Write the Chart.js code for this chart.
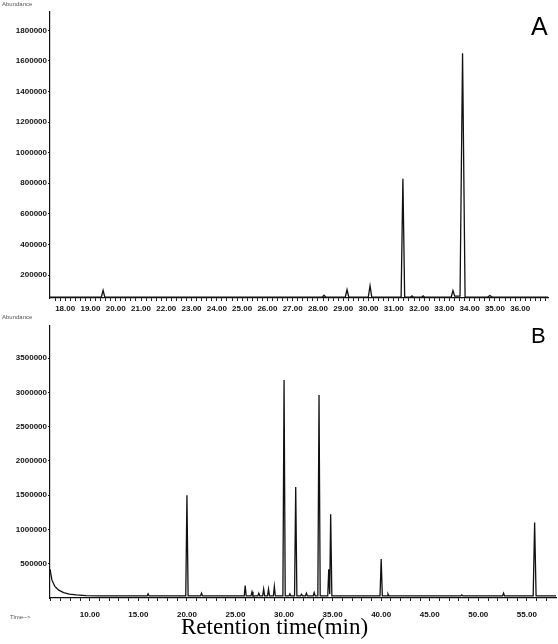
<!DOCTYPE html>
<html>
<head>
<meta charset="utf-8">
<script src="https://cdn.jsdelivr.net/npm/chart.js@4.4.1/dist/chart.umd.min.js"></script>
<style>
  body { margin: 0; background: #fff; width: 558px; height: 644px; position: relative; overflow: hidden; }
  .wrap { position: absolute; left: 0; width: 558px; }
  .tag { position: absolute; font-family: Arial, "Liberation Sans", sans-serif; color: #000; }
  .tiny { position: absolute; font-family: Arial, "Liberation Sans", sans-serif; font-size: 6px; color: #555; }
</style>
</head>
<body>
<div class="wrap" style="top:0;height:320px"><canvas id="chartA"></canvas></div>
<div class="wrap" style="top:320px;height:324px"><canvas id="chartB"></canvas></div>
<div class="tiny" style="left:2px;top:1px">Abundance</div>
<div class="tiny" style="left:2px;top:314px">Abundance</div>
<div class="tiny" style="left:10px;top:614px">Time--&gt;</div>
<div class="tag" style="left:531px;top:12px;font-size:25px">A</div>
<div class="tag" style="left:531px;top:323px;font-size:22px">B</div>
<div class="tag" style="left:181px;top:614px;font-size:23px;font-family:'Liberation Serif','DejaVu Serif',serif">Retention time(min)</div>
<script>
/* cromatograma A */
const tempoA = [17.4, 19.43, 19.5, 19.57, 28.17, 28.24, 28.31, 29.08, 29.15, 29.22, 29.99, 30.06, 30.13,
  31.29, 31.36, 31.43, 31.66, 31.72, 31.78, 32.1, 32.16, 32.22, 33.27, 33.34, 33.41, 33.62, 33.72, 33.82,
  34.7, 34.8, 34.9, 37.1];
const abundA = [55000, 55000, 100000, 55000, 55000, 68000, 55000, 55000, 105000, 55000, 55000, 130000, 55000,
  55000, 830000, 55000, 55000, 64000, 55000, 55000, 64000, 55000, 55000, 98000, 62000, 62000, 1650000, 55000,
  55000, 66000, 55000, 55000];
const yTicksA = [200000, 400000, 600000, 800000, 1000000, 1200000, 1400000, 1600000, 1800000];
const xLabelsA = [18, 19, 20, 21, 22, 23, 24, 25, 26, 27, 28, 29, 30, 31, 32, 33, 34, 35, 36];

/* cromatograma B */
const tempoB = [5.9, 6.1, 6.4, 6.8, 7.3, 7.9, 8.6, 9.6, 11, 15.9, 16.0, 16.1, 19.88, 20.0, 20.12,
  21.4, 21.5, 21.6, 25.9, 26.0, 26.1, 26.6, 26.7, 26.8, 27.3, 27.4, 27.5, 27.8, 27.9, 28.0,
  28.3, 28.4, 28.5, 28.9, 29.0, 29.1, 29.88, 30.0, 30.12, 30.5, 30.6, 30.7, 31.08, 31.2, 31.32,
  31.7, 31.8, 31.9, 32.2, 32.3, 32.4, 33.0, 33.1, 33.2, 33.48, 33.6, 33.72, 34.5, 34.6, 34.7, 34.8, 34.92,
  39.88, 40.0, 40.12, 40.6, 40.7, 40.8, 48.2, 48.3, 48.4, 52.5, 52.6, 52.7, 55.65, 55.8, 55.95, 58.0];
const abundB = [420000, 260000, 170000, 115000, 80000, 58000, 45000, 36000, 30000, 30000, 60000, 30000, 30000, 1500000, 30000,
  30000, 70000, 30000, 30000, 180000, 30000, 30000, 90000, 30000, 30000, 70000, 30000, 30000, 130000, 30000,
  30000, 130000, 30000, 30000, 170000, 30000, 30000, 3180000, 30000, 30000, 60000, 30000, 30000, 1620000, 30000,
  30000, 55000, 30000, 30000, 70000, 30000, 30000, 80000, 30000, 30000, 2960000, 30000, 30000, 420000, 60000, 1220000, 30000,
  30000, 570000, 30000, 30000, 60000, 30000, 30000, 45000, 30000, 30000, 70000, 30000, 30000, 1100000, 30000, 30000];
const yTicksB = [500000, 1000000, 1500000, 2000000, 2500000, 3000000, 3500000];
const xLabelsB = [10, 15, 20, 25, 30, 35, 40, 45, 50, 55];

const fonteTick = { family: 'Arial, "Liberation Sans", sans-serif', size: 8, weight: 'bold' };

function montarGrafico(id, tempos, valores, cfg) {
  const pontos = tempos.map((t, i) => ({ x: t, y: valores[i] }));
  return new Chart(document.getElementById(id), {
    type: 'line',
    data: {
      datasets: [{
        data: pontos,
        borderColor: '#111',
        borderWidth: 1.3,
        pointRadius: 0,
        tension: 0,
        fill: false
      }]
    },
    options: {
      animation: false,
      responsive: true,
      maintainAspectRatio: false,
      layout: { padding: cfg.padding },
      plugins: { legend: { display: false }, tooltip: { enabled: false } },
      scales: {
        x: {
          type: 'linear',
          min: cfg.xMin,
          max: cfg.xMax,
          afterBuildTicks: (scale) => { scale.ticks = cfg.xTicks.map(v => ({ value: v })); },
          afterFit: (scale) => { scale.height = cfg.xHeight; },
          grid: { drawOnChartArea: false, drawTicks: true, tickLength: 3, color: '#222' },
          border: { color: '#111', width: 1.2 },
          ticks: {
            autoSkip: false,
            maxRotation: 0,
            padding: cfg.xPad,
            color: '#111',
            font: fonteTick,
            callback: (v) => cfg.xLabels.some(l => Math.abs(l - v) < 1e-6) ? v.toFixed(2) : ''
          }
        },
        y: {
          min: cfg.yMin,
          max: cfg.yMax,
          afterBuildTicks: (scale) => { scale.ticks = cfg.yTicks.map(v => ({ value: v })); },
          afterFit: (scale) => { scale.width = 50; },
          grid: { drawOnChartArea: false, drawTicks: true, tickLength: 2, color: '#222' },
          border: { color: '#111', width: 1.2 },
          ticks: { padding: 1, color: '#111', font: fonteTick, callback: (v) => String(v) }
        }
      }
    }
  });
}

// marcas menores do eixo x
const marcasA = [];
for (let k = 88; k <= 185; k++) marcasA.push(k / 5);
const marcasB = [];
for (let k = 6; k <= 57; k++) marcasB.push(k);

montarGrafico('chartA', tempoA, abundA, {
  padding: { top: 12, right: 10, bottom: 0, left: 0 },
  xMin: 17.4, xMax: 37.1, yMin: 50000, yMax: 1920000,
  xTicks: marcasA, xLabels: xLabelsA, yTicks: yTicksA, xHeight: 22, xPad: 3
});

montarGrafico('chartB', tempoB, abundB, {
  padding: { top: 0, right: 2, bottom: 22, left: 0 },
  xMin: 5.9, xMax: 58.0, yMin: 0, yMax: 3970000,
  xTicks: marcasB, xLabels: xLabelsB, yTicks: yTicksB, xHeight: 24, xPad: 9
});
</script>
</body>
</html>
